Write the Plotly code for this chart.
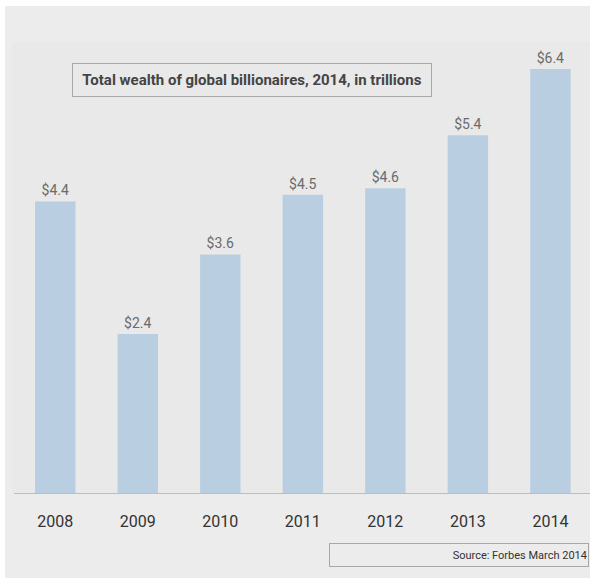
import plotly.graph_objects as go

years = ["2008", "2009", "2010", "2011", "2012", "2013", "2014"]
wealth = [4.4, 2.4, 3.6, 4.5, 4.6, 5.4, 6.4]
labels = ["$4.4", "$2.4", "$3.6", "$4.5", "$4.6", "$5.4", "$6.4"]

W, H = 590, 578
ml, mr, mt, mb = 14, 0, 6, 85
FONT = "Liberation Sans Narrow, Roboto, sans-serif"

fig = go.Figure(go.Bar(
    x=list(range(len(years))), y=wealth, width=0.49,
    marker=dict(color="#b9cfe1", line=dict(width=0)),
    text=labels, textposition="outside", cliponaxis=False,
    textfont=dict(family=FONT, size=14, color="#6b6b6b"),
))

fig.update_layout(
    width=W, height=H,
    margin=dict(l=ml, r=mr, t=mt, b=mb),
    paper_bgcolor="#ececec", plot_bgcolor="rgba(0,0,0,0)",
    showlegend=False,
    xaxis=dict(range=[-0.5, 6.48], tickmode="array", tickvals=list(range(len(years))),
               ticktext=years, showgrid=False, zeroline=False, showline=True,
               linecolor="#bdbdbd", linewidth=1, ticks="", ticklen=0,
               ticklabelstandoff=14,
               tickfont=dict(family=FONT, size=16, color="#333333")),
    yaxis=dict(range=[0, 7.35], visible=False, showgrid=False, zeroline=False),
    shapes=[
        dict(type="rect", xref="paper", yref="paper", x0=-0.1, x1=1.1, y0=1.0, y1=1.2,
             fillcolor="white", line=dict(width=0), layer="below"),
        dict(type="rect", xref="paper", yref="paper", x0=-0.1, x1=-9/576, y0=-0.5, y1=1.2,
             fillcolor="white", line=dict(width=0), layer="below"),
        dict(type="rect", xref="paper", yref="paper", x0=(35-ml)/576 - 0.04, x1=1.0,
             y0=0, y1=(493-42)/487, fillcolor="#e8e9e8", line=dict(width=0), layer="below"),
    ],
    annotations=[
        dict(text="<b>Total wealth of global billionaires, 2014, in trillions</b>",
             xref="paper", yref="paper", x=(72-ml)/576, y=(493-63)/487,
             xanchor="left", yanchor="top", showarrow=False,
             width=356, height=30, align="center",
             bordercolor="#a8a8a8", borderwidth=1, borderpad=1, bgcolor="rgba(0,0,0,0)",
             font=dict(family=FONT, size=15, color="#444444")),
        dict(text="Source: Forbes March 2014",
             xref="paper", yref="paper", x=(329-ml)/576, y=-(543-493)/487,
             xanchor="left", yanchor="top", showarrow=False,
             width=256, height=20, align="right",
             bordercolor="#a8a8a8", borderwidth=1, borderpad=1, bgcolor="rgba(0,0,0,0)",
             font=dict(family=FONT, size=11, color="#333333")),
    ],
)

fig.write_html("out.html")
